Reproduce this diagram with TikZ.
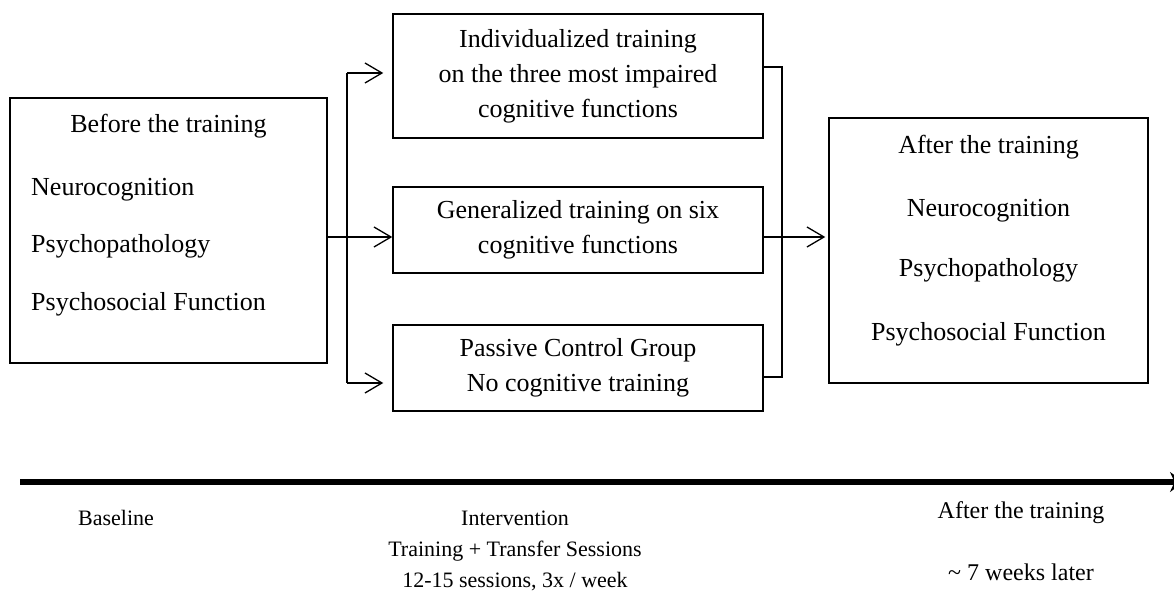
\documentclass[tikz,border=0pt]{standalone}
\usepackage{fontspec}
\setmainfont{Liberation Serif}
\usetikzlibrary{arrows.meta}
\begin{document}
\begin{tikzpicture}[x=1pt,y=-1pt,
  box/.style={draw,line width=1.5pt,inner sep=0pt},
  txt/.style={inner sep=0pt,anchor=base,font=\fontsize{26}{35}\selectfont},
  ltxt/.style={inner sep=0pt,anchor=base,font=\fontsize{22}{31}\selectfont},
  rtxt/.style={inner sep=0pt,anchor=base,font=\fontsize{24}{31}\selectfont},
  btxt/.style={inner sep=0pt,align=center,font=\fontsize{26}{35}\selectfont},
  conn/.style={line width=1.3pt},
  barb/.style={-{Straight Barb[length=17pt,width=20pt,line width=1.3pt]}}]
\fill[white] (0,0) rectangle (1174,601);
\useasboundingbox (0,0) rectangle (1174,601);
% boxes
\node[box,minimum width=317pt,minimum height=265pt] (before) at (168.5,230.5) {};
\node[box,minimum width=370pt,minimum height=124pt] (indiv) at (578,76) {};
\node[box,minimum width=370pt,minimum height=86pt] (gen) at (578,230) {};
\node[box,minimum width=370pt,minimum height=86pt] (pass) at (578,368) {};
\node[box,minimum width=319pt,minimum height=265pt] (after) at (988.5,250.5) {};
% texts in boxes
\node[btxt] (indivt) at (indiv.center) {Individualized training\\on the three most impaired\\cognitive functions};
\node[btxt] (gent) at (gen.center) {Generalized training on six\\cognitive functions};
\node[btxt] (passt) at (pass.center) {Passive Control Group\\No cognitive training};
\node[txt] (b1) at (168.5,133) {Before the training};
\node[txt,anchor=base west] (b2) at (31,196) {Neurocognition};
\node[txt,anchor=base west] (b3) at (31,253) {Psychopathology};
\node[txt,anchor=base west] (b4) at (31,310) {Psychosocial Function};
\node[txt] (a1) at (988.5,154) {After the training};
\node[txt] (a2) at (988.5,217) {Neurocognition};
\node[txt] (a3) at (988.5,277) {Psychopathology};
\node[txt] (a4) at (988.5,340) {Psychosocial Function};
% connectors left
\coordinate (lj) at (347,237);
\coordinate (lt) at (347,73);
\coordinate (lb) at (347,383);
\draw[conn,barb] (before.east |- lj) -- (gen.west |- lj);
\draw[conn] (lt) -- (lb);
\draw[conn,barb,shorten >=9pt] (lt) -- (indiv.west |- lt);
\draw[conn,barb,shorten >=9pt] (lb) -- (pass.west |- lb);
% connectors right
\coordinate (rj) at (782,237);
\coordinate (rt) at (782,67);
\coordinate (rb) at (782,377);
\draw[conn] (indiv.east |- rt) -- (rt) -- (rj);
\draw[conn] (pass.east |- rb) -- (rb) -- (rj);
\draw[conn,barb,shorten >=3pt] (gen.east |- rj) -- (after.west |- rj);
% time axis
\coordinate (ax0) at (20,482);
\coordinate (ax1) at (1184,482);
\draw[line width=5.5pt,-{Stealth[length=14pt,width=20pt]}] (ax0) -- (ax1);
% bottom labels
\node[ltxt] (base) at (116,525) {Baseline};
\node[ltxt] (int1) at (515,525) {Intervention};
\node[ltxt] (int2) at (515,556) {Training + Transfer Sessions};
\node[ltxt] (int3) at (515,587) {12-15 sessions, 3x / week};
\node[rtxt] (aft1) at (1021,518) {After the training};
\node[rtxt] (aft2) at (1021,580) {\textasciitilde{} 7 weeks later};
\end{tikzpicture}
\end{document}
